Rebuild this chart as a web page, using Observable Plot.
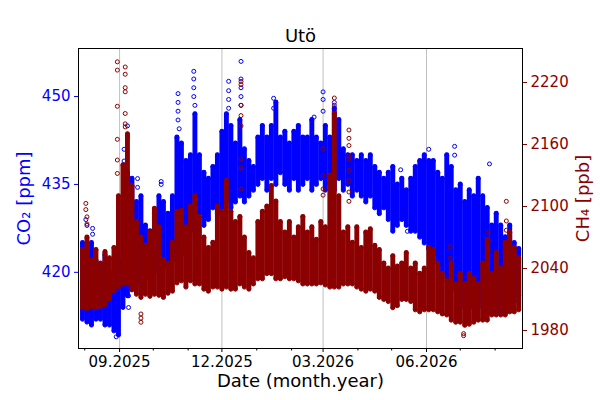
<!DOCTYPE html>
<html><head><meta charset="utf-8">
<script src="https://cdn.jsdelivr.net/npm/d3@7"></script>
<script src="https://cdn.jsdelivr.net/npm/@observablehq/plot@0.6"></script>
<style>body{margin:0;background:#fff;}</style>
</head><body><div id="chart"></div>
<script>
const title = "Utö";
const xLabel = "Date (month.year)";
const co2Label = "CO₂ [ppm]";
const ch4Label = "CH₄ [ppb]";

// ~4-day bins: dense band of observations (low / high) per bin
const binDates = ["2025-07-30","2025-08-03","2025-08-07","2025-08-11","2025-08-15","2025-08-19","2025-08-23","2025-08-27","2025-08-31",
"2025-09-04","2025-09-08","2025-09-12","2025-09-16","2025-09-20","2025-09-24","2025-09-28",
"2025-10-02","2025-10-06","2025-10-10","2025-10-14","2025-10-18","2025-10-22","2025-10-26","2025-10-30",
"2025-11-03","2025-11-07","2025-11-11","2025-11-15","2025-11-19","2025-11-23","2025-11-27",
"2025-12-01","2025-12-05","2025-12-09","2025-12-13","2025-12-17","2025-12-21","2025-12-25","2025-12-29",
"2026-01-02","2026-01-06","2026-01-10","2026-01-14","2026-01-18","2026-01-22","2026-01-26","2026-01-30",
"2026-02-03","2026-02-07","2026-02-11","2026-02-15","2026-02-19","2026-02-23","2026-02-27",
"2026-03-03","2026-03-07","2026-03-11","2026-03-15","2026-03-19","2026-03-23","2026-03-27","2026-03-31",
"2026-04-04","2026-04-08","2026-04-12","2026-04-16","2026-04-20","2026-04-24","2026-04-28",
"2026-05-02","2026-05-06","2026-05-10","2026-05-14","2026-05-18","2026-05-22","2026-05-26","2026-05-30",
"2026-06-03","2026-06-07","2026-06-11","2026-06-15","2026-06-19","2026-06-23","2026-06-27",
"2026-07-01","2026-07-05","2026-07-09","2026-07-13","2026-07-17","2026-07-21","2026-07-25","2026-07-29",
"2026-08-02","2026-08-06","2026-08-10","2026-08-14","2026-08-18","2026-08-22"];

const co2Lo = [412,411.5,411,412,412,411,411,410,409.3,414,
416,417,418,418,419,419,420,421,421,422,
422,423,423,424,427,432,430,428,429,431,
430,431,432,431,432,433,432,433,434,435,
436,434,436,435,437,435,434,436,434,435,
436,434,435,436,434,435,434,436,434,435,
433,434,433,432,433,431,430,431,429,427,
428,429,428,427,427,426,425,424,423,422,
420,419,418,417,415,414,414,414,414,415,
414,413,413,413,413,414,415,416];
const co2Hi = [425,423,425,422,421,423,420,420,422,432,
437,436,432,433,428,427,430,433,432,430,
433,443,442,439,440,447,440,437,436,438,
440,444,447,445,442,446,441,439,438,443,
445,443,445,449,443,444,442,444,445,443,
443,446,443,442,445,443,448,446,441,440,
440,439,440,439,440,438,437,436,437,438,
435,436,434,436,438,439,440,439,439,437,
436,440,438,434,435,432,434,433,436,433,
431,428,430,428,426,428,425,424];
const ch4Lo = [2002,2001,2003,2002,2003,2005,2010,2018,2022,2025,
2025,2020,2015,2012,2015,2013,2015,2014,2012,2016,
2018,2026,2028,2022,2028,2025,2025,2020,2018,2022,
2022,2020,2022,2020,2020,2025,2022,2020,2025,2030,
2030,2035,2035,2030,2030,2032,2030,2030,2028,2025,
2025,2025,2025,2026,2024,2022,2022,2022,2025,2025,
2025,2022,2020,2018,2020,2018,2012,2010,2008,2002,
2004,2010,2010,2008,2000,1998,2000,2000,2000,1998,
1996,1995,1990,1988,1988,1985,1986,1988,1990,1990,
1990,1995,1995,1995,1995,1998,1998,2000];
const ch4Hi = [2058,2070,2048,2058,2045,2056,2050,2060,2110,2140,
2170,2120,2085,2070,2062,2075,2098,2080,2048,2045,
2065,2095,2096,2080,2100,2110,2090,2070,2060,2065,
2100,2095,2125,2095,2085,2090,2070,2055,2050,2085,
2095,2100,2120,2105,2085,2075,2085,2070,2080,2090,
2075,2080,2068,2085,2080,2130,2190,2110,2075,2080,
2065,2080,2060,2075,2078,2062,2058,2045,2040,2052,
2042,2045,2055,2040,2045,2035,2040,2060,2058,2045,
2035,2028,2045,2025,2035,2025,2035,2030,2025,2045,
2068,2035,2055,2040,2065,2075,2060,2050];

// isolated observations outside the dense band
const co2SparseDates = ["2025-08-02","2025-08-03","2025-08-08","2025-08-08","2025-08-29","2025-09-05","2025-09-05","2025-09-08","2025-09-08","2025-09-09","2025-09-09","2025-09-17","2025-09-17","2025-10-08","2025-10-08",
"2025-10-23","2025-10-23","2025-10-23","2025-10-23","2025-10-24","2025-11-06","2025-11-06","2025-11-06","2025-11-06","2025-11-07",
"2025-12-07","2025-12-07","2025-12-07","2025-12-07","2025-12-18","2025-12-18","2025-12-18","2025-12-18","2025-12-18",
"2026-01-16","2026-01-16","2026-02-21","2026-03-01","2026-03-01","2026-03-01","2026-03-11","2026-05-09","2026-05-15","2026-06-03","2026-06-26","2026-06-26","2026-07-27"];
const co2SparseValues = [429,428,427.5,426.5,409,441,439,445,443,414,416,436,434.5,435.5,435,
450.5,449,447.5,446,444.5,454.3,453,451.5,450,448.5,
452.6,451,449.5,448,456,453,451.5,450,448.5,
449.7,448,446.5,450.8,449.5,447.5,449,437.5,427,441,441.5,440,438.5];

const ch4SparseDates = ["2025-08-02","2025-08-02","2025-08-03","2025-08-03",
"2025-08-30","2025-08-30","2025-08-30","2025-08-30","2025-08-30","2025-08-30",
"2025-09-06","2025-09-06","2025-09-06","2025-09-06","2025-09-06","2025-09-06","2025-09-06",
"2025-09-20","2025-09-20","2025-09-20",
"2025-12-18","2025-12-18","2025-12-18","2025-12-18","2025-12-18","2025-12-18","2025-12-18","2025-12-18",
"2026-03-01","2026-03-01","2026-03-01","2026-03-01",
"2026-03-11","2026-03-11",
"2026-03-24","2026-03-24","2026-03-24","2026-03-24","2026-03-24","2026-03-24","2026-03-24","2026-03-24","2026-03-24",
"2026-06-22","2026-06-22","2026-07-04","2026-07-04","2026-07-26","2026-07-26","2026-07-26","2026-08-11","2026-08-11","2026-08-11"];
const ch4SparseValues = [2103,2097,2090,2083,
2240,2232,2197,2165,2145,2132,
2235,2228,2215,2211,2190,2180,2177,
1992,1988,1996,
2221,2218,2198,2188,2178,2146,2137,2117,
2156,2130,2117,2111,
2205,2198,
2174,2166,2159,2149,2146,2135,2125,2114,2105,
2061,2050,1977,1975,2075,2066,2058,2105,2086,2077];

const co2Ticks = [420, 435, 450];
const ch4Ticks = [1980, 2040, 2100, 2160, 2220];
const majorTicks = ["2025-09-01","2025-12-01","2026-03-01","2026-06-01"];
const minorTicks = ["2025-08-01","2025-10-01","2025-11-01","2026-01-01","2026-02-01","2026-04-01","2026-05-01","2026-07-01","2026-08-01"];

const parse = d3.utcParse("%Y-%m-%d");
const co2Domain = [407.0, 458.2];
const ch4Domain = [1962.6, 2252.9];
const ch4ToY = d3.scaleLinear().domain(ch4Domain).range(co2Domain);

const bins = binDates.map((d, i) => ({
  date: parse(d), co2Lo: co2Lo[i], co2Hi: co2Hi[i],
  ch4Lo: ch4ToY(ch4Lo[i]), ch4Hi: ch4ToY(ch4Hi[i])
}));
const co2Sparse = co2SparseDates.map((d, i) => ({date: parse(d), v: co2SparseValues[i]}));
const ch4Sparse = ch4SparseDates.map((d, i) => ({date: parse(d), v: ch4ToY(ch4SparseValues[i])}));

const BLUE = "#0000ff", RED = "#8b0000";
const bandW = 4.9, r = 2;

const chart = Plot.plot({
  width: 600, height: 400,
  marginLeft: 78, marginRight: 78, marginTop: 48, marginBottom: 52,
  style: {fontFamily: "DejaVu Sans", fontSize: "15px", background: "white", color: "black"},
  x: {type: "utc", domain: [new Date(Date.UTC(2025, 6, 26, 11)), new Date(Date.UTC(2026, 7, 25, 9))]},
  y: {domain: co2Domain},
  marks: [
    Plot.gridX(majorTicks.map(parse), {stroke: "#b0b0b0", strokeOpacity: 1, strokeWidth: 0.8}),
    // CO2
    Plot.ruleX(bins, {x: "date", y1: "co2Lo", y2: "co2Hi", stroke: BLUE, strokeWidth: bandW, strokeLinecap: "round"}),
    Plot.dot(bins, {x: "date", y: "co2Lo", r, stroke: BLUE, fill: "none", strokeWidth: 1}),
    Plot.dot(bins, {x: "date", y: "co2Hi", r, stroke: BLUE, fill: "none", strokeWidth: 1}),
    Plot.dot(co2Sparse, {x: "date", y: "v", r, stroke: BLUE, fill: "none", strokeWidth: 1}),
    // CH4
    Plot.ruleX(bins, {x: "date", y1: "ch4Lo", y2: "ch4Hi", stroke: RED, strokeWidth: bandW, strokeLinecap: "round"}),
    Plot.dot(bins, {x: "date", y: "ch4Lo", r, stroke: RED, fill: "none", strokeWidth: 1}),
    Plot.dot(bins, {x: "date", y: "ch4Hi", r, stroke: RED, fill: "none", strokeWidth: 1}),
    Plot.dot(ch4Sparse, {x: "date", y: "v", r, stroke: RED, fill: "none", strokeWidth: 1}),
    // axes
    Plot.axisX({ticks: majorTicks.map(parse), tickFormat: d3.utcFormat("%m.%Y"), tickSize: 4, tickPadding: 4, fontSize: 15, label: null}),
    Plot.axisX({ticks: minorTicks.map(parse), tickFormat: () => "", tickSize: 2.5, label: null}),
    Plot.axisY({ticks: co2Ticks, anchor: "left", color: BLUE, tickSize: 4, tickPadding: 4, fontSize: 15, label: null}),
    Plot.axisY({ticks: ch4Ticks.map(ch4ToY), anchor: "right", color: RED, tickSize: 4, tickPadding: 4, fontSize: 15, label: null,
      tickFormat: d => String(Math.round(ch4ToY.invert(d)))}),
    Plot.frame({stroke: "black", strokeWidth: 1}),
    // labels
    Plot.text([title], {frameAnchor: "top", dy: -7, lineAnchor: "bottom", fontSize: 18, fill: "black"}),
    Plot.text([xLabel], {frameAnchor: "bottom", dy: 38, fontSize: 18, fill: "black"}),
    Plot.text([co2Label], {frameAnchor: "left", textAnchor: "middle", dx: -54, rotate: -90, fontSize: 18, fill: BLUE}),
    Plot.text([ch4Label], {frameAnchor: "right", textAnchor: "middle", dx: 61, rotate: -90, fontSize: 18, fill: RED})
  ]
});
document.getElementById("chart").appendChild(chart);
</script>
</body></html>
